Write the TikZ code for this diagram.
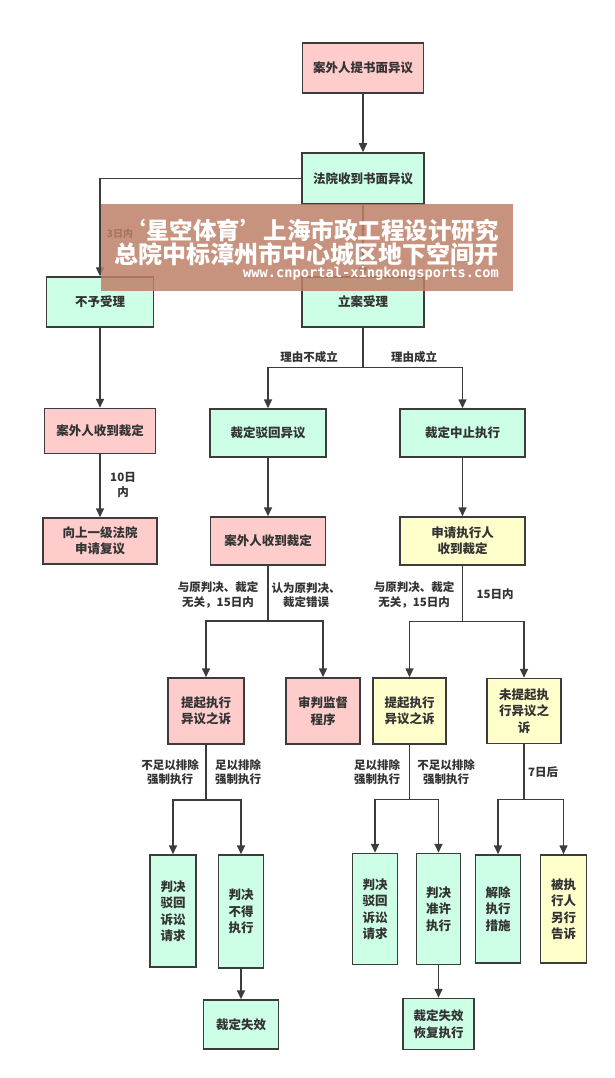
\documentclass[tikz,border=0pt]{standalone}
\usepackage{fontspec}
\newfontfamily\cjk{Noto Sans CJK SC}
\newfontfamily\wmmono{DejaVu Sans Mono}
\usetikzlibrary{arrows.meta}

\definecolor{boxpink}{HTML}{FFCCCC}
\definecolor{boxgreen}{HTML}{CCFFE6}
\definecolor{boxyellow}{HTML}{FFFFCC}
\definecolor{linegray}{HTML}{3C3C3C}
\definecolor{textgray}{HTML}{333333}
\definecolor{wmbrown}{RGB}{190,128,104}

\begin{document}
\begin{tikzpicture}[x=1pt,y=-1pt,
  box/.style={draw=linegray, line width=1.5pt, inner sep=0pt, align=center,
    text=textgray, font=\cjk\bfseries\fontsize{12.5}{16.5}\selectfont},
  pinkbox/.style={box, fill=boxpink},
  greenbox/.style={box, fill=boxgreen},
  yellowbox/.style={box, fill=boxyellow},
  boxsize/.style 2 args={minimum width=#1pt, minimum height=#2pt},
  lbl/.style={inner sep=0pt, align=center, text=textgray,
    font=\cjk\bfseries\fontsize{11.5}{14.5}\selectfont},
  ln/.style={draw=linegray, line width=1.6pt},
  arr/.style={ln, -{Triangle[length=9pt,width=8pt]}}]

\fill[white] (0,0) rectangle (614,1078);
\useasboundingbox (0,0) rectangle (614,1078);

% Kasten
\node[pinkbox, boxsize={121}{50}] (tiyi) at (363,68) {案外人提书面异议};
\node[greenbox, boxsize={122}{51}] (shoudao) at (363,178.5) {法院收到书面异议};
\node[greenbox, boxsize={107}{50}] (buyu) at (100,302) {不予受理};
\node[greenbox, boxsize={122}{50}] (lian) at (363,302) {立案受理};
\node[pinkbox, boxsize={111}{45}] (waiA) at (100,431) {案外人收到裁定};
\node[pinkbox, boxsize={114}{46}] (fuyi) at (100,541) {向上一级法院\\申请复议};
\node[greenbox, boxsize={116}{48}] (bohui) at (268,433) {裁定驳回异议};
\node[greenbox, boxsize={125}{48}] (zhongzhi) at (462.5,433) {裁定中止执行};
\node[pinkbox, boxsize={115}{48}] (waiB) at (268,541) {案外人收到裁定};
\node[yellowbox, boxsize={125}{48}] (shenqing) at (462.5,541) {申请执行人\\收到裁定};
\node[pinkbox, boxsize={76}{66}] (suA) at (206,711) {提起执行\\异议之诉};
\node[pinkbox, boxsize={74}{66}] (jiandu) at (323,711) {审判监督\\程序};
\node[yellowbox, boxsize={73}{66}] (suB) at (409.5,711) {提起执行\\异议之诉};
\node[yellowbox, boxsize={74}{65}] (weiti) at (524,711) {未提起执\\行异议之\\诉};
\node[greenbox, boxsize={46}{112}] (panA1) at (173,911) {判决\\驳回\\诉讼\\请求};
\node[greenbox, boxsize={45}{113}] (panA2) at (241,911.5) {判决\\不得\\执行};
\node[greenbox, boxsize={75}{49}] (shixiao) at (241,1024.5) {裁定失效};
\node[greenbox, boxsize={45}{111}] (panB1) at (375,909) {判决\\驳回\\诉讼\\请求};
\node[greenbox, boxsize={44}{111}] (panB2) at (438.5,909) {判决\\准许\\执行};
\node[greenbox, boxsize={71}{51}] (huifu) at (438.5,1024) {裁定失效\\恢复执行};
\node[greenbox, boxsize={45}{108}] (jiechu) at (498,909) {解除\\执行\\措施};
\node[yellowbox, boxsize={46}{108}] (lingxing) at (563.5,909) {被执\\行人\\另行\\告诉};

% Verzweigungen
\coordinate (jLian) at (363,367.5);
\coordinate (jWaiB) at (268,621);
\coordinate (jShen) at (462.5,621.5);
\coordinate (jSuA) at (206,800);
\coordinate (jSuB) at (409.5,799.5);
\coordinate (jWeiti) at (524,799.5);

\draw[arr] (tiyi) -- (shoudao);
\draw[arr] (shoudao) -- (lian);
\draw[arr] (shoudao.west) -| (buyu);
\draw[arr] (buyu) -- (waiA);
\draw[arr] (waiA) -- (fuyi);
\draw[ln] (lian) -- (jLian);
\draw[arr] (jLian) -| (bohui);
\draw[arr] (jLian) -| (zhongzhi);
\draw[arr] (bohui) -- (waiB);
\draw[arr] (zhongzhi) -- (shenqing);
\draw[ln] (waiB) -- (jWaiB);
\draw[arr] (jWaiB) -| (suA);
\draw[arr] (jWaiB) -| (jiandu);
\draw[ln] (shenqing) -- (jShen);
\draw[arr] (jShen) -| (suB);
\draw[arr] (jShen) -| (weiti);
\draw[ln] (suA) -- (jSuA);
\draw[arr] (jSuA) -| (panA1);
\draw[arr] (jSuA) -| (panA2);
\draw[arr] (panA2) -- (shixiao);
\draw[ln] (suB) -- (jSuB);
\draw[arr] (jSuB) -| (panB1);
\draw[arr] (jSuB) -| (panB2);
\draw[arr] (panB2) -- (huifu);
\draw[ln] (weiti) -- (jWeiti);
\draw[arr] (jWeiti) -| (jiechu);
\draw[arr] (jWeiti) -| (lingxing);

% Beschriftungen
\node[lbl, font=\cjk\bfseries\fontsize{10}{12}\selectfont] (tDays3) at (120,234) {3日内};
\node[lbl] (tNo) at (309,357) {理由不成立};
\node[lbl] (tYes) at (414,357) {理由成立};
\node[lbl] (tDays10) at (123,485) {10日\\内};
\node[lbl] (tIrrA) at (218,595) {与原判决、裁定\\无关，15日内};
\node[lbl] (tWrong) at (306,595) {认为原判决、\\裁定错误};
\node[lbl] (tIrrB) at (414,595) {与原判决、裁定\\无关，15日内};
\node[lbl] (tDays15) at (495,594) {15日内};
\node[lbl] (tNotEnA) at (170,772) {不足以排除\\强制执行};
\node[lbl] (tEnA) at (238,772) {足以排除\\强制执行};
\node[lbl] (tEnB) at (377,772) {足以排除\\强制执行};
\node[lbl] (tNotEnB) at (446,772) {不足以排除\\强制执行};
\node[lbl] (tDays7) at (543,772) {7日后};

% Wasserzeichen
\fill[wmbrown, opacity=0.85] (100.7,204) rectangle (513,290.7);
\node[inner sep=0pt, anchor=east, text=white, font=\cjk\bfseries\fontsize{23.5}{24}\selectfont] (wmA) at (499,230) {‘星空体育’上海市政工程设计研究};
\node[inner sep=0pt, anchor=east, text=white, font=\cjk\bfseries\fontsize{24}{24}\selectfont] (wmB) at (499,254) {总院中标漳州市中心城区地下空间开};
\node[inner sep=0pt, anchor=east, text=white, font=\wmmono\bfseries\fontsize{13.7}{14}\selectfont] (wmC) at (499,273) {www.cnportal-xingkongsports.com};

\end{tikzpicture}
\end{document}
